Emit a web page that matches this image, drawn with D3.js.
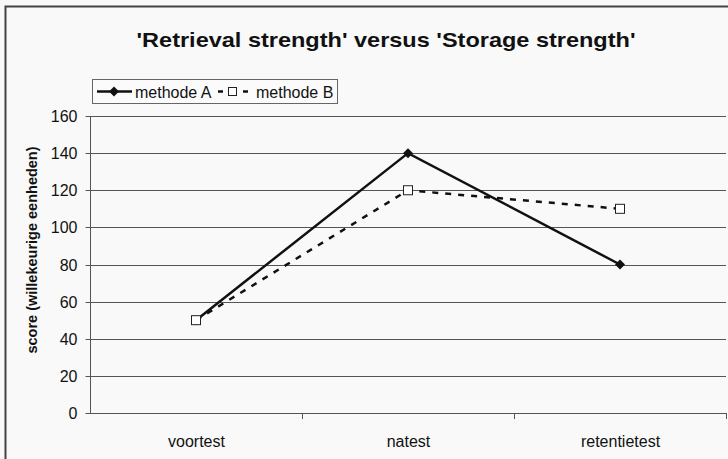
<!DOCTYPE html>
<html>
<head>
<meta charset="utf-8">
<script src="https://cdn.jsdelivr.net/npm/d3@7"></script>
<style>
  html, body { margin: 0; padding: 0; background: #f9f9f9; }
  svg { display: block; font-family: "Liberation Sans", Arial, sans-serif; }
</style>
</head>
<body>
<svg id="chart" width="728" height="459"></svg>
<script>
const categories = ["voortest", "natest", "retentietest"];
const methodeA = [50, 140, 80];
const methodeB = [50, 120, 110];
const yTicks = [0, 20, 40, 60, 80, 100, 120, 140, 160];
const seriesNames = ["methode A", "methode B"];
const titleText = "'Retrieval strength' versus 'Storage strength'";
const yLabel = "score (willekeurige eenheden)";

const svg = d3.select("#chart");
const W = 728, H = 459;
const plot = { left: 90, right: 726, top: 116, bottom: 413 };

svg.append("rect").attr("x", 0).attr("y", 0).attr("width", W).attr("height", H).attr("fill", "#f9f9f9");
// outer border
svg.append("path")
  .attr("d", `M5.5,${H} V6.5 H${W}`)
  .attr("fill", "none").attr("stroke", "#444").attr("stroke-width", 2);

const x = d3.scalePoint().domain(categories).range([plot.left, plot.right]).padding(0.5);
const xBand = d3.scaleBand().domain(categories).range([plot.left, plot.right]);
const y = d3.scaleLinear().domain([0, 160]).range([plot.bottom, plot.top]);

// gridlines
svg.append("g").selectAll("line").data(yTicks.filter(d => d > 0)).join("line")
  .attr("x1", plot.left).attr("x2", plot.right)
  .attr("y1", d => Math.round(y(d)) + 0.5).attr("y2", d => Math.round(y(d)) + 0.5)
  .attr("stroke", "#555").attr("stroke-width", 1);

// y axis
const yAxis = d3.axisLeft(y).tickValues(yTicks).tickSize(5).tickPadding(8);
const gy = svg.append("g").attr("transform", `translate(${plot.left + 0.5},0.5)`).call(yAxis);
gy.select(".domain").attr("stroke", "#555").attr("d", `M0,${plot.bottom} V${plot.top}`);
gy.selectAll(".tick line").attr("stroke", "#555");
gy.selectAll(".tick text").attr("font-size", 16).attr("fill", "#111").attr("font-family", "Liberation Sans, Arial, sans-serif").attr("dy", "0.35em");
gy.selectAll(".tick").attr("transform", d => `translate(0,${Math.round(y(d))})`);

// x axis
const xAxis = d3.axisBottom(x).tickSize(0).tickPadding(22);
const gx = svg.append("g").attr("transform", `translate(0,${plot.bottom + 0.5})`).call(xAxis);
gx.select(".domain").attr("stroke", "#555").attr("d", `M${plot.left},0 H${plot.right + 1}`);
gx.selectAll(".tick text").attr("font-size", 16).attr("fill", "#111").attr("font-family", "Liberation Sans, Arial, sans-serif");
// category boundary ticks
const bounds = categories.map(c => xBand(c) + xBand.bandwidth());
svg.append("g").selectAll("line").data(bounds).join("line")
  .attr("x1", d => Math.round(d) + 0.5).attr("x2", d => Math.round(d) + 0.5)
  .attr("y1", plot.bottom).attr("y2", plot.bottom + 6)
  .attr("stroke", "#555");

// lines
const line = d3.line().x((d, i) => x(categories[i])).y(d => y(d));
svg.append("path").datum(methodeB).attr("d", line)
  .attr("fill", "none").attr("stroke", "#111").attr("stroke-width", 2.5).attr("stroke-dasharray", "6,7");
svg.append("path").datum(methodeA).attr("d", line)
  .attr("fill", "none").attr("stroke", "#111").attr("stroke-width", 2.5);

// markers
const diamond = (cx, cy, r) => `M${cx},${cy - r} L${cx + r},${cy} L${cx},${cy + r} L${cx - r},${cy} Z`;
svg.append("g").selectAll("path").data(methodeA).join("path")
  .attr("d", (d, i) => diamond(x(categories[i]), y(d), 5))
  .attr("fill", "#111");
svg.append("g").selectAll("rect").data(methodeB).join("rect")
  .attr("x", (d, i) => x(categories[i]) - 4.5).attr("y", d => y(d) - 4.5)
  .attr("width", 9).attr("height", 9)
  .attr("fill", "#fff").attr("stroke", "#222").attr("stroke-width", 1);

// title
svg.append("text").attr("x", 386).attr("y", 47).attr("text-anchor", "middle")
  .attr("font-size", 21).attr("font-weight", "bold").attr("fill", "#111")
  .attr("textLength", 499).attr("lengthAdjust", "spacingAndGlyphs").text(titleText);

// y label
svg.append("text").attr("transform", `translate(37,250) rotate(-90)`).attr("text-anchor", "middle")
  .attr("font-size", 14.5).attr("font-weight", "bold").attr("fill", "#111").text(yLabel);

// legend
const lg = svg.append("g");
lg.append("rect").attr("x", 92.5).attr("y", 79.5).attr("width", 245).attr("height", 24)
  .attr("fill", "#fbfbfb").attr("stroke", "#666").attr("stroke-width", 1);
lg.append("line").attr("x1", 97).attr("x2", 132).attr("y1", 91.5).attr("y2", 91.5)
  .attr("stroke", "#111").attr("stroke-width", 2.5);
lg.append("path").attr("d", diamond(114, 91.5, 5)).attr("fill", "#111");
lg.append("text").attr("x", 135).attr("y", 97.5).attr("font-size", 16).attr("fill", "#111").text(seriesNames[0]);
lg.append("line").attr("x1", 218).attr("x2", 248).attr("y1", 91.5).attr("y2", 91.5)
  .attr("stroke", "#111").attr("stroke-width", 2.5).attr("stroke-dasharray", "5,20");
lg.append("rect").attr("x", 228.5).attr("y", 87.5).attr("width", 8).attr("height", 8)
  .attr("fill", "#fff").attr("stroke", "#222");
lg.append("text").attr("x", 256).attr("y", 97.5).attr("font-size", 16).attr("fill", "#111").text(seriesNames[1]);
</script>
</body>
</html>
